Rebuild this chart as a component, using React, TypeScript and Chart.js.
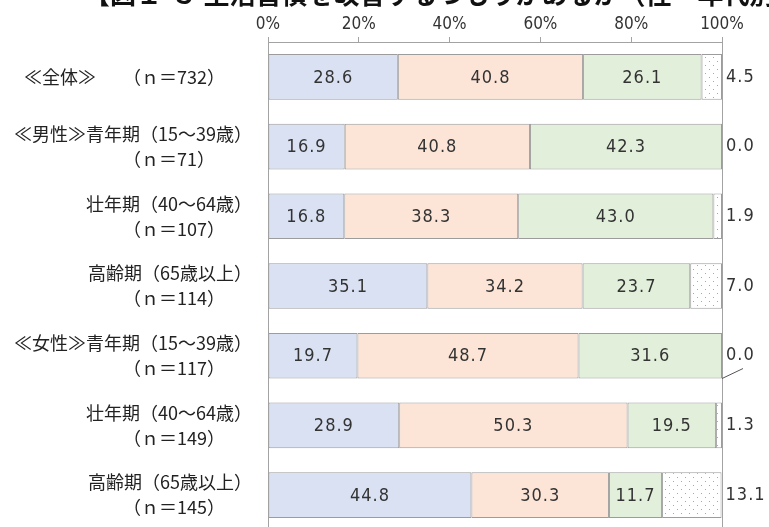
import React, { useEffect, useRef } from "react";
import { Chart, registerables } from "chart.js";

Chart.register(...registerables);

// ---- data ----
const titleText = "【図１-３ 生活習慣を改善するつもりがあるか（性・年代別）】";
const groupLabels = [
  "≪全体≫",
  "≪男性≫青年期（15～39歳）",
  "壮年期（40～64歳）",
  "高齢期（65歳以上）",
  "≪女性≫青年期（15～39歳）",
  "壮年期（40～64歳）",
  "高齢期（65歳以上）",
];
const sampleSizes = [732, 71, 107, 114, 117, 149, 145];
const seriesNames = ["回答1", "回答2", "回答3", "無回答"];
const series1 = [28.6, 16.9, 16.8, 35.1, 19.7, 28.9, 44.8];
const series2 = [40.8, 40.8, 38.3, 34.2, 48.7, 50.3, 30.3];
const series3 = [26.1, 42.3, 43.0, 23.7, 31.6, 19.5, 11.7];
const series4 = [4.5, 0.0, 1.9, 7.0, 0.0, 1.3, 13.1];
const xTickLabels = ["0%", "20%", "40%", "60%", "80%", "100%"];

// ---- styling ----
const NARROW = '"Liberation Sans Narrow", "DejaVu Sans Condensed", "Liberation Sans", sans-serif';
const JP = '"Noto Sans CJK JP", "Noto Sans", sans-serif';
const GRID = "#a3a3a3";
const BORDER = "#9c9c9c";
const LEADER_INDEX = 4;

const PAD = "\u3000\u2002\u2002";

function buildLabels(): (string | string[])[] {
  return groupLabels.map((g, i) => {
    const n = sampleSizes[i];
    const extra = n < 100 ? "\u2007" : "";
    const nText = `（ｎ＝${n}）`;
    if (i === 0) return `${g}\u3000\u3000${nText}${PAD}${extra}`;
    return [g, `${nText}${PAD}${extra}`];
  });
}

function makeDotPattern(ctx: CanvasRenderingContext2D): CanvasPattern | string {
  const c = document.createElement("canvas");
  c.width = 8;
  c.height = 8;
  const p = c.getContext("2d");
  if (!p) return "#ffffff";
  p.fillStyle = "#ffffff";
  p.fillRect(0, 0, 8, 8);
  p.fillStyle = "#a8a8a8";
  p.fillRect(1, 1, 1, 1);
  p.fillRect(5, 5, 1, 1);
  return ctx.createPattern(c, "repeat") || "#ffffff";
}

const titlePlugin = {
  id: "cutTitle",
  afterDraw(chart: any) {
    const ctx = chart.ctx as CanvasRenderingContext2D;
    ctx.save();
    ctx.font = `bold 26px ${JP}`;
    ctx.fillStyle = "#111";
    ctx.textAlign = "left";
    ctx.textBaseline = "alphabetic";
    ctx.fillText(titleText, 84, 4);
    ctx.restore();
  },
};

const valueLabelPlugin = {
  id: "valueLabels",
  afterDatasetsDraw(chart: any) {
    const ctx = chart.ctx as CanvasRenderingContext2D;
    ctx.save();
    ctx.font = `18px ${NARROW}`;
    ctx.fillStyle = "#333";
    ctx.textBaseline = "middle";
    if ("letterSpacing" in ctx) (ctx as any).letterSpacing = "1px";
    chart.data.datasets.forEach((ds: any, di: number) => {
      const meta = chart.getDatasetMeta(di);
      meta.data.forEach((el: any, i: number) => {
        const v = ds.data[i] as number;
        const { x, y, base, height } = el.getProps(["x", "y", "base", "height"], true);
        const text = v.toFixed(1);
        if (di < 3) {
          ctx.textAlign = "center";
          ctx.fillText(text, (x + base) / 2, y + 1);
        } else {
          ctx.textAlign = "left";
          const end = Math.max(x, base);
          ctx.fillText(text, end + 4, y);
          if (i === LEADER_INDEX) {
            ctx.strokeStyle = "#555";
            ctx.lineWidth = 1;
            ctx.beginPath();
            ctx.moveTo(end, y + height / 2);
            ctx.lineTo(end + 21, y + height / 2 - 10);
            ctx.stroke();
          }
        }
      });
    });
    ctx.restore();
  },
};

export default function App() {
  const canvasRef = useRef<HTMLCanvasElement | null>(null);

  useEffect(() => {
    const canvas = canvasRef.current;
    if (!canvas) return;
    const ctx = canvas.getContext("2d");
    if (!ctx) return;
    const dots = makeDotPattern(ctx);
    const fills = ["#d9e1f2", "#fce4d6", "#e2efda", dots];
    const values = [series1, series2, series3, series4];

    const chart = new Chart(ctx, {
      type: "bar",
      data: {
        labels: buildLabels(),
        datasets: values.map((vals, k) => ({
          label: seriesNames[k],
          data: vals,
          backgroundColor: fills[k] as any,
          borderColor: BORDER,
          borderWidth: 1,
          borderSkipped: false,
          barPercentage: 0.655,
          categoryPercentage: 1,
        })),
      },
      options: {
        indexAxis: "y",
        responsive: false,
        animation: false,
        layout: { padding: { left: 0, right: 47, top: 0, bottom: 15 } },
        plugins: {
          legend: { display: false },
          title: { display: false },
          tooltip: { enabled: false },
        },
        scales: {
          x: {
            position: "top",
            stacked: true,
            min: 0,
            max: 100,
            afterFit: (s: any) => {
              s.height = 42;
              s.paddingLeft = 0;
              s.paddingRight = 0;
            },
            ticks: {
              stepSize: 20,
              padding: 2,
              color: "#333",
              font: { family: NARROW, size: 17 },
              callback: (v: any) => xTickLabels[Math.round(Number(v) / 20)],
            },
            grid: {
              drawTicks: true,
              tickLength: 5,
              color: (c: any) =>
                c.tick && (c.tick.value === 0 || c.tick.value === 100) ? GRID : "rgba(0,0,0,0)",
              tickColor: GRID,
              lineWidth: 1,
            },
            border: { display: true, color: GRID, width: 1 },
          },
          y: {
            stacked: true,
            afterFit: (s: any) => {
              s.width = 268;
              s.paddingTop = 0;
              s.paddingBottom = 0;
            },
            ticks: {
              autoSkip: false,
              padding: 16,
              color: "#222",
              font: { family: JP, size: 18, lineHeight: 1.39 },
            },
            grid: { display: false, drawTicks: false },
            border: { display: false },
          },
        },
      },
      plugins: [valueLabelPlugin, titlePlugin],
    });
    return () => chart.destroy();
  }, []);

  return (
    <div
      style={{
        position: "fixed",
        left: 0,
        top: 0,
        width: 769,
        height: 527,
        overflow: "hidden",
        background: "#fff",
      }}
    >
      <canvas ref={canvasRef} width={769} height={545} style={{ display: "block" }} />
    </div>
  );
}
